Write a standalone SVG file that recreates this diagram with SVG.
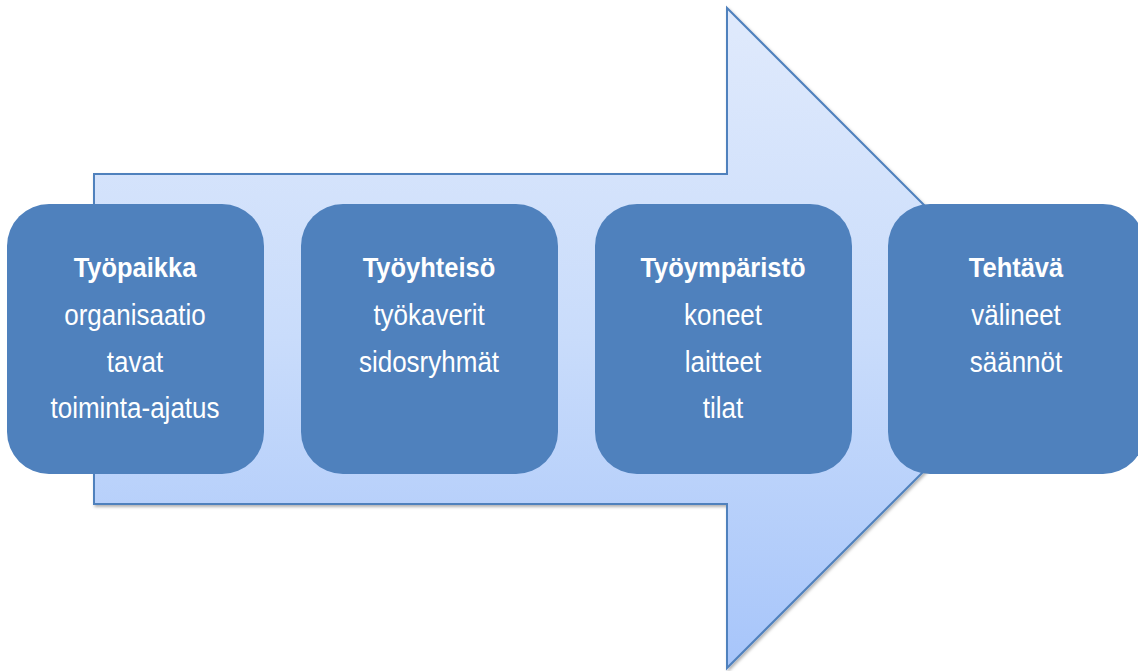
<svg xmlns="http://www.w3.org/2000/svg" width="1138" height="671" viewBox="0 0 1138 671">
<defs>
<linearGradient id="ag" x1="0" y1="8" x2="0" y2="668" gradientUnits="userSpaceOnUse">
<stop offset="0" stop-color="#e0eafc"/>
<stop offset="0.5" stop-color="#c9dcfb"/>
<stop offset="1" stop-color="#a7c5fa"/>
</linearGradient>
<filter id="sh" x="-5%" y="-5%" width="110%" height="110%">
<feDropShadow dx="1.5" dy="2" stdDeviation="1.5" flood-color="#000" flood-opacity="0.3"/>
</filter>
<style>
.box{fill:#4f81bd;}
.t{font-family:"Liberation Sans",Arial,sans-serif;font-size:26px;fill:#ffffff;text-anchor:middle;}
.b{font-weight:bold;font-size:25.5px;}
</style>
</defs>
<rect width="1138" height="671" fill="#ffffff"/>
<g id="connectors">
<path d="M94,174 H727 V8 L1057,338 L727,668 V504 H94 Z" fill="url(#ag)" stroke="#4f81bd" stroke-width="2" stroke-linejoin="miter" filter="url(#sh)"/>
</g>
<g id="n1">
<rect class="box" x="7" y="204" width="257" height="270" rx="42"/>
<text class="t b" transform="translate(135,277) scale(1,1.05)">Työpaikka</text>
<text class="t" transform="translate(135,324.5) scale(1,1.1)">organisaatio</text>
<text class="t" transform="translate(135,371.5) scale(1,1.1)">tavat</text>
<text class="t" transform="translate(135,418) scale(1,1.1)">toiminta-ajatus</text>
</g>
<g id="n2">
<rect class="box" x="301" y="204" width="257" height="270" rx="42"/>
<text class="t b" transform="translate(429,277) scale(1,1.05)">Työyhteisö</text>
<text class="t" transform="translate(429,324.5) scale(1,1.1)">työkaverit</text>
<text class="t" transform="translate(429,371.5) scale(1,1.1)">sidosryhmät</text>
</g>
<g id="n3">
<rect class="box" x="595" y="204" width="257" height="270" rx="42"/>
<text class="t b" transform="translate(723,277) scale(1,1.05)">Työympäristö</text>
<text class="t" transform="translate(723,324.5) scale(1,1.1)">koneet</text>
<text class="t" transform="translate(723,371.5) scale(1,1.1)">laitteet</text>
<text class="t" transform="translate(723,418) scale(1,1.1)">tilat</text>
</g>
<g id="n4">
<rect class="box" x="888" y="204" width="257" height="270" rx="42"/>
<text class="t b" transform="translate(1016,277) scale(1,1.05)">Tehtävä</text>
<text class="t" transform="translate(1016,324.5) scale(1,1.1)">välineet</text>
<text class="t" transform="translate(1016,371.5) scale(1,1.1)">säännöt</text>
</g>
</svg>
